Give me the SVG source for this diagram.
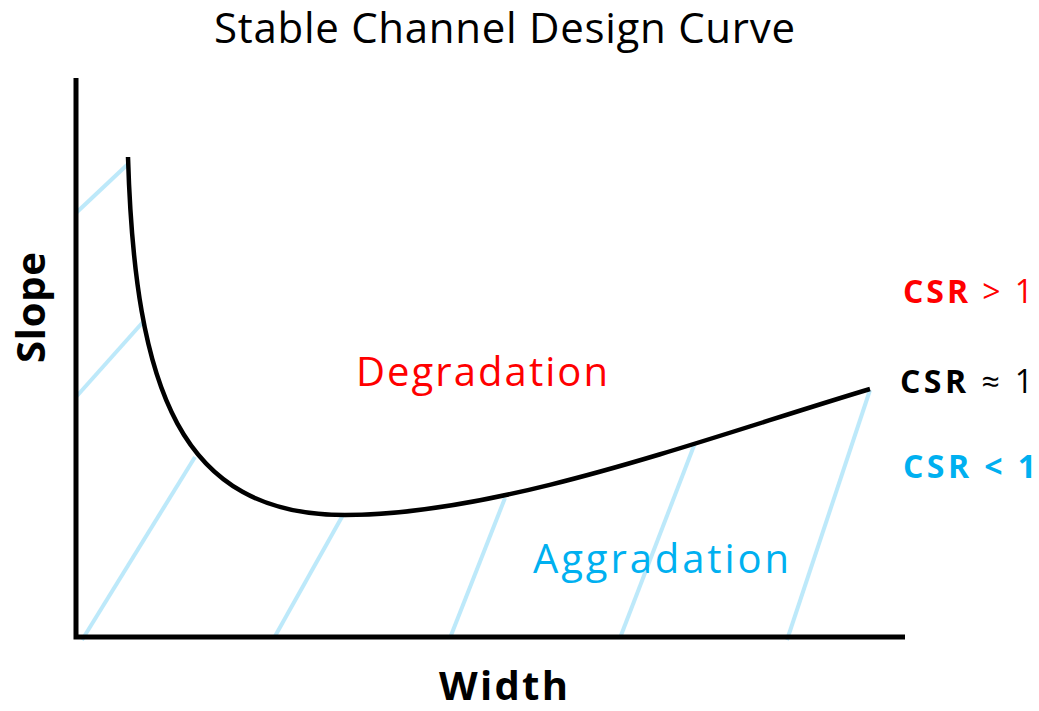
<svg xmlns="http://www.w3.org/2000/svg" width="1039" height="711" viewBox="0 0 1039 711">
<style>
.hatch{stroke:#bde9fa;stroke-width:4;fill:none;stroke-linecap:butt}
.axis{stroke:#000;stroke-width:5;fill:none}
.curve{stroke:#000;stroke-width:4.5;fill:none;stroke-linecap:butt}
.t{font-family:"Open Sans","Noto Sans","Liberation Sans",sans-serif}
.b{font-family:"Open Sans","Noto Sans","Liberation Sans",sans-serif;font-weight:bold}
</style>
<rect width="1039" height="711" fill="#fff"/>
<g id="hatching">
<line class="hatch" x1="76" y1="213" x2="128" y2="164"/>
<line class="hatch" x1="76" y1="397" x2="143" y2="322"/>
<line class="hatch" x1="82" y1="640" x2="195" y2="457"/>
<line class="hatch" x1="274" y1="638" x2="343" y2="515"/>
<line class="hatch" x1="450" y1="638" x2="505" y2="498"/>
<line class="hatch" x1="620" y1="638" x2="695" y2="443"/>
<line class="hatch" x1="787" y1="640" x2="870" y2="390"/>
</g>
<g id="axes">
<polyline class="axis" points="76,78 76,637 905,637"/>
</g>
<g id="curve">
<path class="curve" d="M128,157 C135,390 180,515 345,515 C500,515 700,440 870,389"/>
</g>
<text class="t" x="214" y="43" font-size="42" textLength="581" lengthAdjust="spacing" fill="#000">Stable Channel Design Curve</text>
<text class="t" x="356" y="386" font-size="40" textLength="252" lengthAdjust="spacing" fill="#ff0000">Degradation</text>
<text class="t" x="533" y="573" font-size="40" textLength="256" lengthAdjust="spacing" fill="#00b0f0">Aggradation</text>
<text class="b" x="439" y="700" font-size="40" textLength="129" lengthAdjust="spacing" fill="#000">Width</text>
<text class="b" transform="translate(45,363) rotate(-90)" x="0" y="0" font-size="40" textLength="111" lengthAdjust="spacing" fill="#000">Slope</text>
<text class="t" x="903" y="303" font-size="32" textLength="130" lengthAdjust="spacing" fill="#ff0000"><tspan font-weight="bold">CSR</tspan> &gt; 1</text>
<text class="t" x="900" y="393" font-size="32" textLength="133" lengthAdjust="spacing" fill="#000"><tspan font-weight="bold">CSR</tspan> ≈ 1</text>
<text class="b" x="903" y="478" font-size="32" textLength="133" lengthAdjust="spacing" fill="#00b0f0">CSR &lt; 1</text>
</svg>
